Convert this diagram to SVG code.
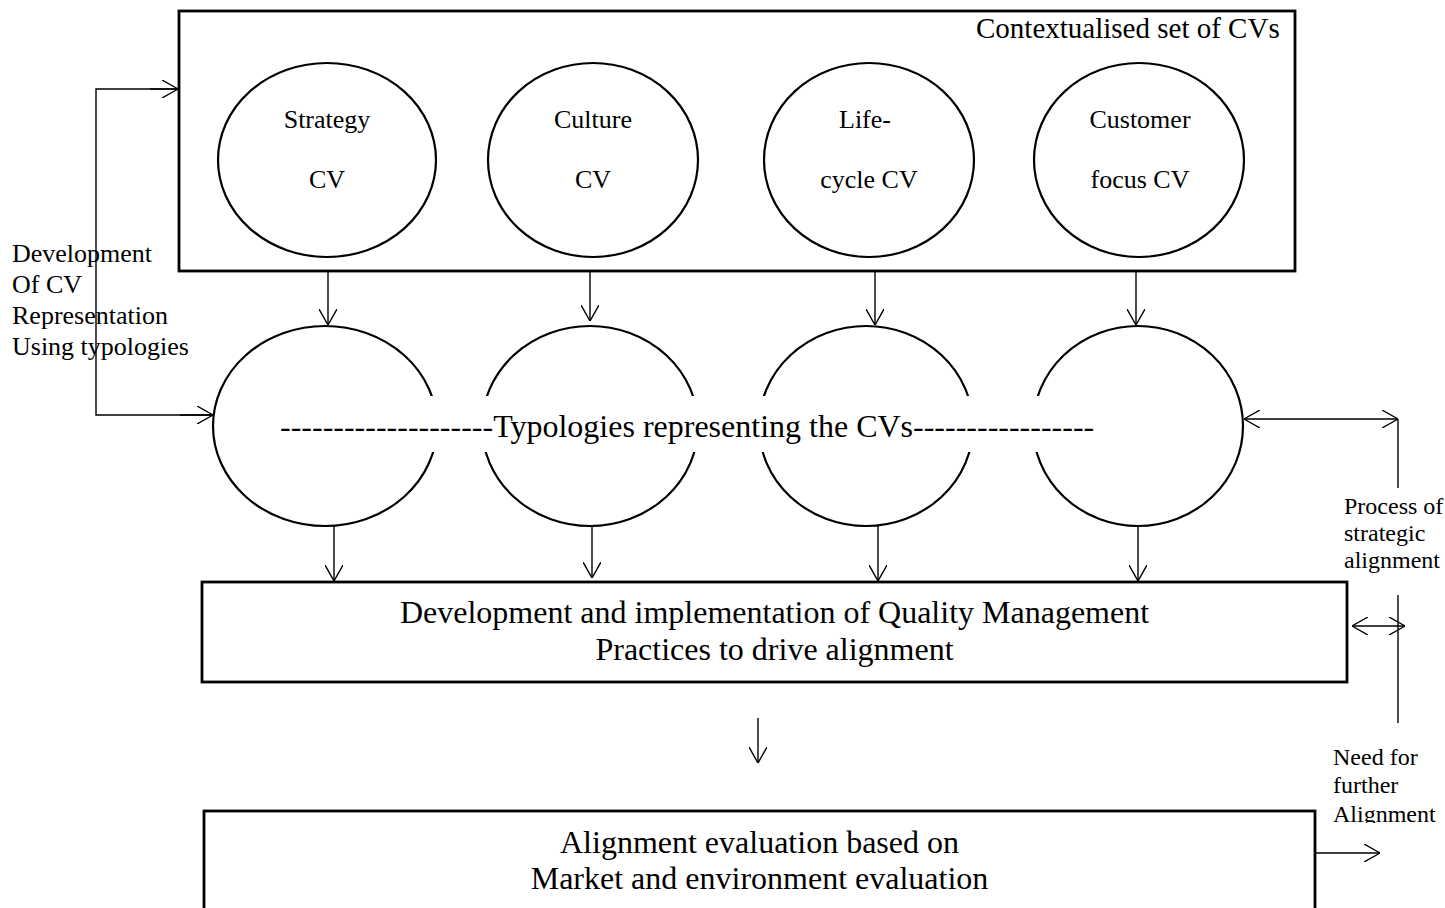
<svg xmlns="http://www.w3.org/2000/svg" width="1445" height="908" viewBox="0 0 1445 908">
  <style>
    text { font-family: "Liberation Serif", "Times New Roman", serif; fill: #000; }
    .box { fill: none; stroke: #000; stroke-width: 2.8; }
    .oval { fill: #fff; stroke: #000; stroke-width: 2.2; }
    .link { fill: none; stroke: #000; stroke-width: 1.4; }
    .arr { marker-end: url(#head); }
    .arr2 { marker-start: url(#head); marker-end: url(#head); }
    .cv { font-size: 26px; text-anchor: middle; }
    .big { font-size: 32px; text-anchor: middle; }
    .side { font-size: 24px; }
    .left { font-size: 26px; }
  </style>
  <defs>
    <marker id="head" viewBox="0 0 16 18" refX="16" refY="9" markerWidth="16" markerHeight="18" markerUnits="userSpaceOnUse" orient="auto-start-reverse">
      <path d="M0,0 L16,9 L0,18" fill="none" stroke="#000" stroke-width="1.4"/>
    </marker>
    <clipPath id="clipNeed">
      <rect x="1300" y="730" width="145" height="93"/>
    </clipPath>
  </defs>

  <rect width="1445" height="908" fill="#fff"/>

  <!-- Container of the contextualised CVs -->
  <g id="cv-set">
    <rect class="box" x="179" y="11" width="1116" height="260"/>
    <text x="976" y="38" style="font-size:29px">Contextualised set of CVs</text>
  </g>

  <g id="cv-strategy">
    <ellipse class="oval" cx="327" cy="160" rx="109" ry="97"/>
    <text class="cv" x="327" y="128">Strategy</text>
    <text class="cv" x="327" y="188">CV</text>
  </g>
  <g id="cv-culture">
    <ellipse class="oval" cx="593" cy="160" rx="105" ry="97"/>
    <text class="cv" x="593" y="128">Culture</text>
    <text class="cv" x="593" y="188">CV</text>
  </g>
  <g id="cv-lifecycle">
    <ellipse class="oval" cx="869" cy="160" rx="105" ry="97"/>
    <text class="cv" x="865" y="128">Life-</text>
    <text class="cv" x="869" y="188">cycle CV</text>
  </g>
  <g id="cv-customer">
    <ellipse class="oval" cx="1139" cy="160" rx="105" ry="97"/>
    <text class="cv" x="1140" y="128">Customer</text>
    <text class="cv" x="1140" y="188">focus CV</text>
  </g>

  <!-- Typology ovals -->
  <g id="typ-strategy"><ellipse class="oval" cx="325" cy="426" rx="112" ry="100"/></g>
  <g id="typ-culture"><ellipse class="oval" cx="590" cy="426" rx="108" ry="100"/></g>
  <g id="typ-lifecycle"><ellipse class="oval" cx="866" cy="426" rx="107" ry="100"/></g>
  <g id="typ-customer"><ellipse class="oval" cx="1138" cy="426" rx="105" ry="100"/></g>

  <g id="typ-label">
    <rect x="272" y="396" width="835" height="56" fill="#fff"/>
    <text x="280" y="437" style="font-size:32px">--------------------Typologies representing the CVs-----------------</text>
  </g>

  <!-- Quality management practices -->
  <g id="qm-practices">
    <rect class="box" x="202" y="582" width="1145" height="100"/>
    <text class="big" x="774.5" y="623">Development and implementation of Quality Management</text>
    <text class="big" x="774.5" y="660">Practices to drive alignment</text>
  </g>

  <!-- Alignment evaluation -->
  <g id="evaluation">
    <rect class="box" x="204" y="811" width="1111" height="120"/>
    <text class="big" x="759.5" y="853">Alignment evaluation based on</text>
    <text class="big" x="759.5" y="889">Market and environment evaluation</text>
  </g>

  <!-- Side labels -->
  <g id="label-development">
    <text class="left" x="12" y="262">Development</text>
    <text class="left" x="12" y="293">Of CV</text>
    <text class="left" x="12" y="324">Representation</text>
    <text class="left" x="12" y="355">Using typologies</text>
  </g>
  <g id="label-process">
    <text class="side" x="1344" y="514">Process of</text>
    <text class="side" x="1344" y="541">strategic</text>
    <text class="side" x="1344" y="568">alignment</text>
  </g>
  <g id="label-need" clip-path="url(#clipNeed)">
    <text class="side" x="1333" y="765">Need for</text>
    <text class="side" x="1333" y="793">further</text>
    <text class="side" x="1333" y="822">Alignment</text>
  </g>

  <!-- Connectors -->
  <g id="connectors">
    <!-- CV to typology -->
    <line class="link arr" x1="328" y1="271" x2="328" y2="325"/>
    <line class="link arr" x1="590" y1="271" x2="590" y2="321"/>
    <line class="link arr" x1="875" y1="271" x2="875" y2="325"/>
    <line class="link arr" x1="1136" y1="271" x2="1136" y2="325"/>
    <!-- typology to practices -->
    <line class="link arr" x1="334" y1="526" x2="334" y2="581"/>
    <line class="link arr" x1="592" y1="526" x2="592" y2="578"/>
    <line class="link arr" x1="878" y1="526" x2="878" y2="581"/>
    <line class="link arr" x1="1138" y1="526" x2="1138" y2="581"/>
    <!-- practices to evaluation -->
    <line class="link arr" x1="758" y1="718" x2="758" y2="763"/>
    <!-- development bracket on the left -->
    <polyline class="link" points="178,89 96,89 96,415 213,415"/>
    <line class="link arr" x1="150" y1="89" x2="178" y2="89"/>
    <line class="link arr" x1="180" y1="415" x2="213" y2="415"/>
    <!-- strategic alignment loop on the right -->
    <line class="link arr2" x1="1244" y1="419" x2="1398" y2="419"/>
    <line class="link" x1="1398" y1="419" x2="1398" y2="488"/>
    <line class="link" x1="1398" y1="595" x2="1398" y2="723"/>
    <line class="link arr2" x1="1352" y1="626" x2="1405" y2="626"/>
    <line class="link arr" x1="1315" y1="853" x2="1380" y2="853"/>
  </g>
</svg>
